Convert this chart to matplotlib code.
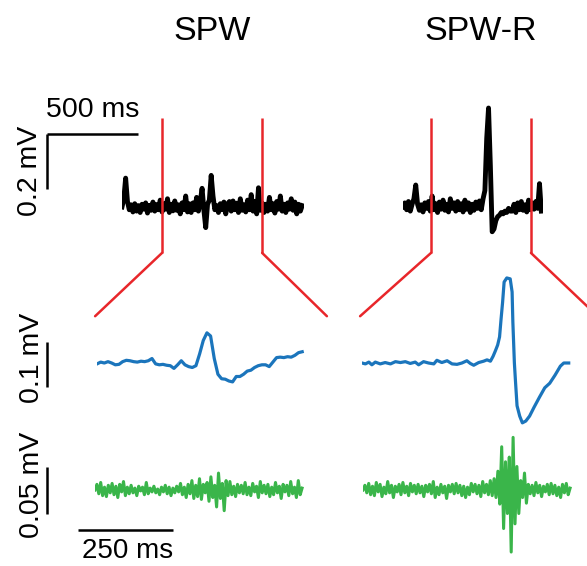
import numpy as np
import matplotlib
matplotlib.use('Agg')
import matplotlib.pyplot as plt
from matplotlib.patches import ConnectionPatch

plt.rcParams['font.family'] = ['Liberation Sans', 'DejaVu Sans']

# ---- data (microvolts, ms) ----
# wide band traces, 10 ms per sample
spw_raw = [0, 30, 105, 20, -10, 8, -18, 12, -15, 5,
           -20, 10, -8, 15, -22, 6, -12, 18, -15, 9,
           -10, 25, -18, 12, -8, 30, -20, 10, -14, 22,
           -12, 8, -25, 15, -10, 40, -18, 12, -20, 15,
           -10, 35, -15, 20, 68, -12, -75, 10, 25, 115,
           40, -10, 5, -20, 12, -10, 18, -25, 10, 20,
           -15, 22, -10, 14, -20, 30, -12, 8, -18, 25,
           -10, 45, -15, 20, -25, 70, -12, 15, -20, 10,
           -15, 35, -10, 12, -22, 20, -8, 40, -15, 10,
           -20, 15, -8, 30, -12, 18, -25, 10, -15, 5]
spwr_raw = [0, 15, -10, 20, -15, 10, 30, 80, 10, -12,
            8, -18, 15, -5, 20, -15, 40, -10, 12, -20,
            18, -8, 25, -12, 10, -18, 30, -5, 15, -15,
            20, -10, 12, -18, 25, -8, 15, -20, 10, -12,
            18, -5, 22, -10, 30, 60, 250, 360, 150, -90,
            -80, -50, -35, -30, -20, -25, -15, -20, -5, -15,
            -15, 10, -20, 15, -10, 20, -12, 8, -18, 25,
            -10, 15, -8, 20, -5, 85, -15]
raw_step = 10

# low-pass (SPW band) traces
spw_lp = [-2, 2, 0, 3, 0, -4, -3, 3, 6, 5,
          3, 2, 4, 3, 5, 10, -2, -4, -3, -5,
          -6, -12, -4, 5, -4, -8, -10, -6, 20, 50,
          67, 60, 10, -25, -35, -36, -40, -42, -30, -30,
          -25, -18, -16, -10, -6, -4, -4, -8, 2, 12,
          13, 12, 14, 13, 17, 23, 25]
spw_lp_span = 540
spwr_lp_t = [0, 9, 18, 26, 35, 48, 61, 75, 88, 101, 114, 127, 140, 149, 162,
             175, 189, 197, 210, 224, 237, 250, 263, 276, 285, 294, 307, 320,
             329, 338, 345, 351, 357, 362, 366, 370, 374, 381, 390, 395, 397,
             401, 404, 408, 415, 422, 431, 441, 453, 467, 481, 494, 508, 522,
             531, 544]
spwr_lp = [0, -2, 2, -4, 2, -2, 1, -2, 3, 1, 3, -1, 2, -4, 3,
           0, -2, 6, 1, 5, -2, -3, 0, 5, -1, -5, 1, 4,
           7, 4, 15, 27, 40, 58, 98, 135, 180, 189, 187, 158, 91,
           0, -42, -95, -118, -133, -129, -118, -98, -76, -55, -45, -27, -7,
           0, 0]

# ripple band traces
spw_rip = [0, 6, -4, 8, -6, 3, -7, 5, -3, 7,
           -5, 4, -8, 6, -2, 9, -6, 3, -4, 5,
           -3, 2, -6, 4, -1, 3, -5, 8, -4, 2,
           -2, 4, -3, 1, -5, 3, -2, 5, -4, 3,
           -6, 2, -3, 4, -2, 7, -5, 3, -8, 6,
           -4, 10, -9, 5, -7, 12, -10, 6, -3, 8,
           -12, 14, -8, 5, -18, 18, -9, 7, -22, 10,
           -6, 9, -5, 4, -7, 6, -3, 5, -4, 8,
           -5, 3, -6, 7, -2, 4, -8, 9, -3, 5,
           -4, 6, -7, 3, -5, 8, -3, 4, -9, 6,
           -2, 5, -6, 9, -4, 3, -8, 10, -5, 2]
spwr_rip = [0, 5, -3, 7, -5, 4, -6, 8, -2, 6,
            -7, 3, -4, 9, -3, 5, -8, 4, -2, 6,
            -5, 8, -3, 4, -6, 7, -2, 5, -4, 6,
            -3, 4, -7, 5, -2, 6, -4, 9, -8, 3,
            -5, 6, -3, 4, -9, 5, -2, 6, -4, 7,
            -3, 5, -6, 4, -8, 3, -5, 7, -2, 6,
            -4, 5, -7, 9, -3, 6, -5, 10, -6, 12,
            -8, 20, -15, 46, -41, 30, -25, 35, -66, 56,
            -36, 25, -25, 10, -8, 18, -14, 6, -4, 5,
            -6, 8, -3, 5, -7, 4, -2, 6, -5, 7,
            -4, 5, -6, 3, -8, 6, -3, 7, -5, 2]
rip_span = 545

titles = ['SPW', 'SPW-R']
windows = [(220, 770), (154, 703)]   # zoomed window in the raw trace, ms

RED = '#e8262a'
BLUE = '#1b75bc'
GREEN = '#3ab54a'

W, H = 587, 566
fig = plt.figure(figsize=(W / 100, H / 100), dpi=100)


def trace_axes(left, base, span, lo, hi, px_ms, px_uv):
    # axes placed in pixels so that both columns share one scale
    top = base - hi * px_uv
    bottom = base - lo * px_uv
    ax = fig.add_axes([left / W, 1 - bottom / H, span * px_ms / W, (bottom - top) / H])
    ax.set_xlim(0, span)
    ax.set_ylim(lo, hi)
    ax.axis('off')
    return ax


top_ms, top_uv = 0.182, 0.275
low_ms, blue_uv, green_uv = 0.38, 0.45, 0.94

ax_raw = [trace_axes(122, 207, 1000, -330, 330, top_ms, top_uv),
          trace_axes(403, 207, 770, -330, 370, top_ms, top_uv)]
ax_lp = [trace_axes(97, 363, 550, -140, 200, low_ms, blue_uv),
         trace_axes(362, 363, 550, -140, 200, low_ms, blue_uv)]
ax_rip = [trace_axes(95, 490, 550, -70, 60, low_ms, green_uv),
          trace_axes(363, 490, 550, -70, 60, low_ms, green_uv)]

for ax, vals in zip(ax_raw, [spw_raw, spwr_raw]):
    t = np.arange(len(vals)) * raw_step
    ax.plot(t, vals, color='black', lw=3.5, solid_joinstyle='round')

ax_lp[0].plot(np.linspace(0, spw_lp_span, len(spw_lp)), spw_lp, color=BLUE, lw=2.3)
ax_lp[1].plot(spwr_lp_t, spwr_lp, color=BLUE, lw=2.3)

for ax, vals in zip(ax_rip, [spw_rip, spwr_rip]):
    ax.plot(np.linspace(0, rip_span, len(vals)), vals, color=GREEN, lw=2.2)

# titles
ax_raw[0].text(495, 640, titles[0], ha='center', va='center', fontsize=24.5)
ax_raw[1].text(425, 640, titles[1], ha='center', va='center', fontsize=24.5)

# zoom window lines
for i in range(2):
    t0, t1 = windows[i]
    for tw, tl in [(t0, -5), (t1, 605 if i == 0 else 620)]:
        ax_raw[i].plot([tw, tw], [324, -167], color=RED, lw=1.8, clip_on=False,
                       solid_capstyle='butt')
        con = ConnectionPatch(xyA=(tw, -167), coordsA=ax_raw[i].transData,
                              xyB=(tl, 104), coordsB=ax_lp[i].transData,
                              color=RED, lw=1.8)
        fig.add_artist(con)

# scale bars
a = ax_raw[0]
a.plot([-412, 88], [265, 265], color='black', lw=1.8, clip_on=False, solid_capstyle='butt')
a.plot([-412, -412], [265, 65], color='black', lw=1.8, clip_on=False, solid_capstyle='butt')
a.text(-162, 305, '500 ms', ha='center', va='bottom', fontsize=20.5)
a.text(-505, 130, '0.2 mV', ha='center', va='center', rotation=90, fontsize=20.5)

a = ax_lp[0]
a.plot([-132, -132], [47, -53], color='black', lw=1.8, clip_on=False, solid_capstyle='butt')
a.text(-170, 11, '0.1 mV', ha='center', va='center', rotation=90, fontsize=20.5)

a = ax_rip[0]
a.plot([-126, -126], [24.5, -25.5], color='black', lw=1.8, clip_on=False, solid_capstyle='butt')
a.text(-165, 5, '0.05 mV', ha='center', va='center', rotation=90, fontsize=20.5)
a.plot([-45, 205], [-42.5, -42.5], color='black', lw=1.8, clip_on=False, solid_capstyle='butt')
a.text(85, -51, '250 ms', ha='center', va='top', fontsize=20)

fig.savefig('out.png', dpi=100)
